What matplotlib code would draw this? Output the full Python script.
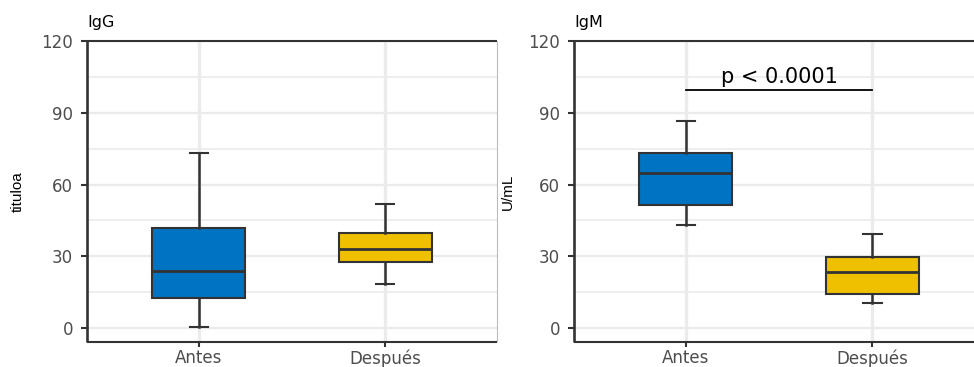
import matplotlib
matplotlib.use('Agg')
import matplotlib.pyplot as plt

plt.rcParams['font.family'] = ['DejaVu Sans']

groups = ['Antes', 'Después']
colors = ['#0073C2', '#EFC000']

# whisker low, q1, median, q3, whisker high
igg = [[0.5, 12.5, 23.8, 41.8, 73.2],
       [18.4, 27.6, 33.0, 39.7, 51.8]]
igm = [[43.1, 51.4, 64.8, 73.2, 86.5],
       [10.5, 14.2, 23.4, 29.7, 39.3]]

yticks = [0, 30, 60, 90, 120]
pval_text = 'p < 0.0001'
pval_y = 99.5

fig = plt.figure(figsize=(9.74, 3.67), dpi=100)
W, H = 974, 367
dark = '#333333'


def panel(left, data, title, ylabel, ylab_right):
    ax = fig.add_axes([left / W, 1 - 342 / H, 410 / W, 301 / H])
    stats = []
    for g, v in zip(groups, data):
        stats.append(dict(label=g, whislo=v[0], q1=v[1], med=v[2], q3=v[3], whishi=v[4], fliers=[]))
    bp = ax.bxp(stats, positions=[1, 2], widths=0.5, capwidths=0.1, patch_artist=True,
                showfliers=False,
                boxprops=dict(edgecolor=dark, linewidth=1.5),
                medianprops=dict(color=dark, linewidth=2.0),
                whiskerprops=dict(color=dark, linewidth=1.8),
                capprops=dict(color=dark, linewidth=1.5))
    for patch, c in zip(bp['boxes'], colors):
        patch.set_facecolor(c)
    for a in bp['boxes'] + bp['whiskers'] + bp['caps'] + bp['medians']:
        a.set_zorder(3)
    ax.set_xlim(0.4, 2.6)
    ax.set_ylim(-5.8, 120)
    ax.set_yticks(yticks)
    ax.set_yticks([15, 45, 75, 105], minor=True)
    ax.set_xticks([1, 2])
    ax.set_xticklabels(groups)
    ax.grid(True, which='major', axis='x', color='#EBEBEB', linewidth=2.4, zorder=0)
    ax.grid(True, which='major', axis='y', color='#EBEBEB', linewidth=1.7, zorder=0)
    ax.grid(True, which='minor', axis='y', color='#EBEBEB', linewidth=1.2, zorder=0)
    ax.set_axisbelow(True)
    for s in ['top', 'bottom']:
        ax.spines[s].set_color(dark)
        ax.spines[s].set_linewidth(1.5)
    ax.spines['left'].set_color(dark)
    ax.spines['left'].set_linewidth(1.9)
    ax.spines['right'].set_color('#BBBBBB')
    ax.spines['right'].set_linewidth(0.8)
    for sp in ax.spines.values():
        sp.set_capstyle('butt')
    ax.tick_params(axis='both', which='major', labelsize=12, labelcolor='#4D4D4D',
                   color=dark, width=1.5)
    ax.tick_params(axis='x', which='major', length=3.8, pad=1.5)
    ax.tick_params(axis='y', which='major', length=4.5, pad=5.5)
    ax.tick_params(axis='y', which='minor', length=0)
    ax.set_ylabel(ylabel, fontsize=11, family='Liberation Sans')
    ax.yaxis.set_label_coords((ylab_right - left) / 410, 0.5)
    ax.text(0.0, 1.045, title, transform=ax.transAxes, fontsize=11.5, ha='left', va='baseline')
    return ax


panel(87, igg, 'IgG', 'tituloa', 25)
ax2 = panel(574, igm, 'IgM', 'U/mL', 515)
ax2.plot([1, 2], [pval_y, pval_y], color='black', linewidth=1.3, zorder=4)
ax2.text(1.5, pval_y + 3, pval_text, ha='center', va='baseline', fontsize=15)

fig.savefig('out.png', dpi=100)
